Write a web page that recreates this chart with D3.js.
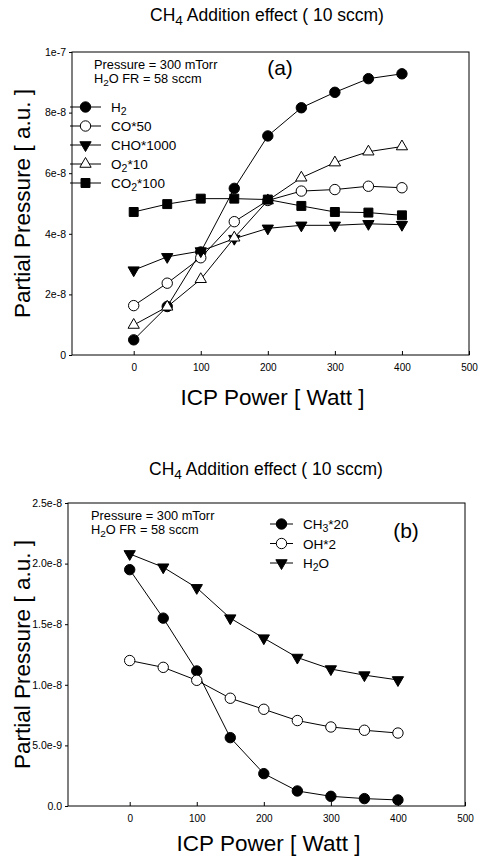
<!DOCTYPE html>
<html>
<head>
<meta charset="utf-8">
<script src="https://cdn.jsdelivr.net/npm/d3@7"></script>
<style>
  body { margin:0; background:#fff; }
  text { font-family: "Liberation Sans", Arial, sans-serif; fill:#000; }
</style>
</head>
<body>
<svg id="fig" width="483" height="860"></svg>
<script>
// ICP power (Watt)
var power = [0, 50, 100, 150, 200, 250, 300, 350, 400];

// panel (a)
var h2    = [5.0e-9, 1.6e-8, 3.4e-8, 5.5e-8, 7.23e-8, 8.16e-8, 8.67e-8, 9.12e-8, 9.28e-8];
var co50  = [1.63e-8, 2.37e-8, 3.21e-8, 4.4e-8, 5.1e-8, 5.41e-8, 5.46e-8, 5.57e-8, 5.52e-8];
var cho   = [2.8e-8, 3.24e-8, 3.43e-8, 3.84e-8, 4.18e-8, 4.28e-8, 4.28e-8, 4.33e-8, 4.3e-8];
var o210  = [0.99e-8, 1.59e-8, 2.5e-8, 3.87e-8, 5.1e-8, 5.85e-8, 6.35e-8, 6.71e-8, 6.88e-8];
var co2   = [4.72e-8, 4.98e-8, 5.16e-8, 5.16e-8, 5.13e-8, 4.92e-8, 4.72e-8, 4.7e-8, 4.61e-8];

// panel (b)
var ch3   = [1.95e-8, 1.55e-8, 1.114e-8, 0.564e-8, 0.267e-8, 0.124e-8, 0.08e-8, 0.061e-8, 0.05e-8];
var oh2   = [1.2e-8, 1.144e-8, 1.037e-8, 0.889e-8, 0.798e-8, 0.705e-8, 0.652e-8, 0.625e-8, 0.602e-8];
var h2o   = [2.08e-8, 1.97e-8, 1.8e-8, 1.55e-8, 1.385e-8, 1.225e-8, 1.13e-8, 1.08e-8, 1.04e-8];

var xTicks = [0, 100, 200, 300, 400, 500];
var yTicksA = [0, 2e-8, 4e-8, 6e-8, 8e-8, 1e-7];
var yLabelsA = ["0", "2e-8", "4e-8", "6e-8", "8e-8", "1e-7"];
var yTicksB = [0, 5e-9, 1e-8, 1.5e-8, 2e-8, 2.5e-8];
var yLabelsB = ["0.0", "5.0e-9", "1.0e-8", "1.5e-8", "2.0e-8", "2.5e-8"];

var svg = d3.select("#fig");

// text with subscripts: parts = [[text, isSub], ...]
function richText(sel, parts, size) {
    var wasSub = false;
    parts.forEach(function(p) {
        var t = sel.append("tspan").text(p[0]);
        if (p[1]) {
            t.attr("font-size", size * 0.78).attr("dy", size * 0.25);
        } else if (wasSub) {
            t.attr("dy", -size * 0.25);
        }
        wasSub = p[1];
    });
}

function markerPath(kind) {
    if (kind == "tri") return d3.symbol().type(d3.symbolTriangle).size(55)();
    if (kind == "sq") return d3.symbol().type(d3.symbolSquare).size(80)();
    return d3.symbol().type(d3.symbolCircle).size(85)();
}

function drawPanel(cfg) {
    var x = d3.scaleLinear().domain([-92, 500]).range([cfg.left, cfg.right]);
    var y = d3.scaleLinear().domain([0, cfg.ymax]).range([cfg.bottom, cfg.top]);
    var g = svg.append("g");

    // title
    var tt = g.append("text").attr("x", cfg.titleX).attr("y", cfg.titleY)
        .attr("text-anchor", "middle").attr("font-size", 17.5);
    richText(tt, [["CH", false], ["4", true], [" Addition effect ( 10 sccm)", false]], 17.5);

    // frame
    g.append("rect").attr("x", cfg.left).attr("y", cfg.top)
        .attr("width", cfg.right - cfg.left).attr("height", cfg.bottom - cfg.top)
        .attr("fill", "none").attr("stroke", "#000").attr("stroke-width", 1);

    var xAxis = d3.axisBottom(x).tickValues(xTicks).tickSizeInner(-4).tickSizeOuter(0).tickPadding(9)
        .tickFormat(d3.format("d"));
    var gx = g.append("g").attr("transform", "translate(0," + cfg.bottom + ")").call(xAxis);
    gx.select(".domain").remove();
    gx.selectAll("text").attr("font-size", 10).style("font-family", "Liberation Sans, Arial");

    var yAxis = d3.axisLeft(y).tickValues(cfg.yTicks).tickSizeInner(3).tickSizeOuter(0).tickPadding(3)
        .tickFormat(function(d, i) { return cfg.yLabels[i]; });
    var gy = g.append("g").attr("transform", "translate(" + cfg.left + ",0)").call(yAxis);
    gy.select(".domain").remove();
    gy.selectAll("text").attr("font-size", 10.5).style("font-family", "Liberation Sans, Arial");

    // axis titles
    g.append("text").attr("x", (cfg.left + cfg.right) / 2 + 2).attr("y", cfg.bottom + cfg.xLabOff)
        .attr("text-anchor", "middle").attr("font-size", 22.5).text("ICP Power [ Watt ]");
    g.append("text").attr("transform", "translate(" + 30 + "," + ((cfg.top + cfg.bottom) / 2) + ") rotate(-90)")
        .attr("text-anchor", "middle").attr("font-size", 22.5).text("Partial Pressure [ a.u. ]");

    // conditions
    g.append("text").attr("x", cfg.noteX).attr("y", cfg.top + 17).attr("font-size", 12.8)
        .text("Pressure = 300 mTorr");
    var n2 = g.append("text").attr("x", cfg.noteX).attr("y", cfg.top + 31).attr("font-size", 12.8);
    richText(n2, [["H", false], ["2", true], ["O FR = 58 sccm", false]], 12.8);

    g.append("text").attr("x", cfg.tagX).attr("y", cfg.tagY).attr("font-size", 21)
        .attr("text-anchor", "middle").text(cfg.tag);

    var line = d3.line().x(function(d, i) { return x(power[i]); }).y(function(d) { return y(d); });

    cfg.series.forEach(function(s, k) {
        g.append("path").datum(s.values).attr("d", line)
            .attr("fill", "none").attr("stroke", "#000").attr("stroke-width", 1);
        g.selectAll(null).data(s.values).enter().append("path")
            .attr("d", markerPath(s.shape))
            .attr("transform", function(d, i) {
                return "translate(" + x(power[i]) + "," + y(d) + ")" + (s.flip ? " rotate(180)" : "");
            })
            .attr("fill", s.fill ? "#000" : "#fff").attr("stroke", "#000").attr("stroke-width", 1);

        // legend
        var ly = cfg.legY + k * cfg.legStep;
        g.append("line").attr("x1", cfg.legX).attr("x2", cfg.legX + cfg.legLen)
            .attr("y1", ly).attr("y2", ly).attr("stroke", "#000");
        g.append("path").attr("d", markerPath(s.shape))
            .attr("transform", "translate(" + (cfg.legX + cfg.legLen / 2) + "," + ly + ")" + (s.flip ? " rotate(180)" : ""))
            .attr("fill", s.fill ? "#000" : "#fff").attr("stroke", "#000");
        var lt = g.append("text").attr("x", cfg.legX + cfg.legLen + 10).attr("y", ly + 5).attr("font-size", 13.5);
        richText(lt, s.label, 13.5);
    });
}

drawPanel({
    left: 72, right: 469, top: 52, bottom: 355, ymax: 1e-7,
    yTicks: yTicksA, yLabels: yLabelsA, xLabOff: 50,
    titleX: 267, titleY: 21, noteX: 94, tagX: 280, tagY: 75, tag: "(a)",
    legX: 70, legLen: 31, legY: 107, legStep: 19,
    series: [
        { values: h2,   shape: "circle", fill: true,  label: [["H", false], ["2", true]] },
        { values: co50, shape: "circle", fill: false, label: [["CO*50", false]] },
        { values: cho,  shape: "tri", flip: true, fill: true, label: [["CHO*1000", false]] },
        { values: o210, shape: "tri", fill: false, label: [["O", false], ["2", true], ["*10", false]] },
        { values: co2,  shape: "sq", fill: true,  label: [["CO", false], ["2", true], ["*100", false]] }
    ]
});

drawPanel({
    left: 68, right: 465, top: 503, bottom: 806, ymax: 2.5e-8,
    yTicks: yTicksB, yLabels: yLabelsB, xLabOff: 45,
    titleX: 266, titleY: 475, noteX: 91, tagX: 406, tagY: 538, tag: "(b)",
    legX: 270, legLen: 23, legY: 524, legStep: 19.5,
    series: [
        { values: ch3, shape: "circle", fill: true,  label: [["CH", false], ["3", true], ["*20", false]] },
        { values: oh2, shape: "circle", fill: false, label: [["OH*2", false]] },
        { values: h2o, shape: "tri", flip: true, fill: true, label: [["H", false], ["2", true], ["O", false]] }
    ]
});
</script>
</body>
</html>
